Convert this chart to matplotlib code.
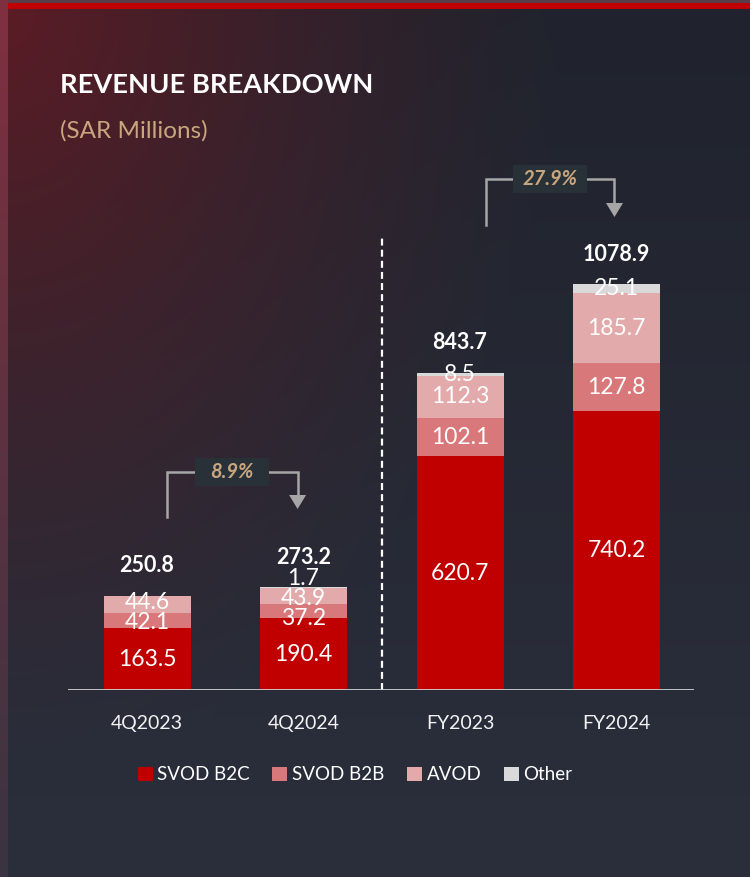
import numpy as np
import matplotlib
matplotlib.use("Agg")
import matplotlib.pyplot as plt
from matplotlib.patches import Patch, Rectangle

plt.rcParams['font.family'] = ['Lato', 'DejaVu Sans']
plt.rcParams['lines.scale_dashes'] = False

# ---------------- data ----------------
categories = ["4Q2023", "4Q2024", "FY2023", "FY2024"]
series_names = ["SVOD B2C", "SVOD B2B", "AVOD", "Other"]
svod_b2c = [163.5, 190.4, 620.7, 740.2]
svod_b2b = [42.1, 37.2, 102.1, 127.8]
avod = [44.6, 43.9, 112.3, 185.7]
other = [0.0, 1.7, 8.5, 25.1]
totals = [250.8, 273.2, 843.7, 1078.9]
growth_labels = ["8.9%", "27.9%"]

# ---------------- style ----------------
colors = ["#c00000", "#d9787b", "#e3aaab", "#d9d9d9"]
W, H = 750, 877
fig = plt.figure(figsize=(W / 100, H / 100), dpi=100)

# background gradient
bg = fig.add_axes([0, 0, 1, 1], zorder=-10)
yy, xx = np.mgrid[0:H, 0:W]
fx, fy = xx / W, yy / H
top = np.array([0x20, 0x23, 0x2d]) / 255
bot = np.array([0x2b, 0x2f, 0x3c]) / 255
img = top[None, None, :] * (1 - fy[..., None]) + bot[None, None, :] * fy[..., None]
red = np.array([0x5c, 0x1c, 0x25]) / 255
d = np.sqrt((fx * 1.0) ** 2 + (fy * 0.85) ** 2)
a = np.clip(1 - d / 0.75, 0, 1) ** 1.3
img = img * (1 - a[..., None]) + red[None, None, :] * a[..., None]
strip = np.zeros((H, 1, 3))
st_top = np.array([0x80, 0x30, 0x40]) / 255
st_bot = np.array([0x3a, 0x34, 0x42]) / 255
s = (np.arange(H) / H)[:, None]
strip[:, 0, :] = st_top * (1 - s) + st_bot * s
img[:, :8, :] = strip
img[0:3, 8:, :] = np.array([0x5a, 0x3c, 0x48]) / 255
img[3:9, 8:, :] = np.array([0xc0, 0x00, 0x00]) / 255
bg.imshow(img, extent=[0, W, H, 0], aspect='auto', interpolation='bilinear')
bg.set_xlim(0, W)
bg.set_ylim(H, 0)
bg.axis('off')

# main axes: baseline at y=690 px, 0.3763 px per unit
px_per_unit = 0.3763
ax_left, ax_right, base_px, top_px = 68, 694, 690, 150
ax = fig.add_axes([ax_left / W, (H - base_px) / H, (ax_right - ax_left) / W, (base_px - top_px) / H])
ax.set_facecolor('none')
ax.set_ylim(0, (base_px - top_px) / px_per_unit)
ax.set_xlim(-0.505, 3.495)
for sp in ax.spines.values():
    sp.set_visible(False)
ax.set_xticks([])
ax.set_yticks([])

x = np.arange(len(categories))
bw = 0.556
series = [svod_b2c, svod_b2b, avod, other]
bottoms = np.zeros(len(categories))
mids = [[] for _ in categories]
for vals, col, name in zip(series, colors, series_names):
    vals = np.array(vals)
    ax.bar(x, vals, bw, bottom=bottoms, color=col, edgecolor='none', zorder=3)
    for i, v in enumerate(vals):
        if v > 0:
            mids[i].append((bottoms[i] + v / 2, v))
    bottoms = bottoms + vals

# segment labels with simple de-overlap (min gap in px)
min_gap = 20 / px_per_unit
for i, lst in enumerate(mids):
    ys = [m for m, _ in lst]
    for _ in range(500):
        moved = False
        for k in range(len(ys) - 1):
            gap = ys[k + 1] - ys[k]
            if gap < min_gap - 1e-6:
                push = (min_gap - gap) / 2
                ys[k] -= push
                ys[k + 1] += push
                moved = True
        if not moved:
            break
    for (m, v), yv in zip(lst, ys):
        ax.text(x[i], yv, f"{v:.1f}", ha='center', va='center', color='white',
                fontsize=16.5, zorder=5)

# totals
for i, t in enumerate(totals):
    ax.annotate(f"{t:.1f}", xy=(x[i], t), xytext=(0, 21.5), textcoords='offset points',
                ha='center', va='center', color='white', fontsize=15.5, fontweight='bold',
                zorder=5)

# categories
for i, c in enumerate(categories):
    ax.annotate(c, xy=(x[i], 0), xytext=(0, -24), textcoords='offset points',
                ha='center', va='center', color='#f2f2f2', fontsize=14, annotation_clip=False)

# baseline
ax.axhline(0, color='#d0d0d0', lw=2, zorder=4)

# dashed separator
ax.plot([1.5, 1.5], [0, 1206], color='white', lw=1.6, dashes=(5, 3), zorder=2,
        clip_on=False)

# growth brackets (layout constants)
brackets = [
    dict(xl=0.128, xr=0.962, ytop=579, ybot=460, ytip=481),
    dict(xl=2.166, xr=2.987, ytop=1358, ybot=1236, ytip=1257),
]
head_h = 14 / px_per_unit
for br, lab in zip(brackets, growth_labels):
    gcol = '#a6a6a6'
    ax.plot([br['xl'], br['xl'], br['xr'], br['xr']],
            [br['ybot'], br['ytop'], br['ytop'], br['ytip'] + head_h],
            color=gcol, lw=1.8, clip_on=False, zorder=3, solid_joinstyle='miter')
    tri_w = 8.5 / 156.5
    ax.fill([br['xr'] - tri_w, br['xr'] + tri_w, br['xr']],
            [br['ytip'] + head_h, br['ytip'] + head_h, br['ytip']],
            color=gcol, clip_on=False, zorder=3, lw=0)
    xc = (br['xl'] + br['xr']) / 2
    bw_box, bh_box = 74 / 156.5, 28 / px_per_unit
    ax.add_patch(Rectangle((xc - bw_box / 2, br['ytop'] - bh_box / 2), bw_box, bh_box,
                           facecolor='#283038', edgecolor='none', zorder=4, clip_on=False))
    ax.text(xc, br['ytop'], lab, ha='center', va='center', color='#c9a67e', fontsize=14.5,
            fontweight='bold', fontstyle='italic', zorder=5)

# titles
fig.text(60 / W, 1 - 85 / H, "REVENUE BREAKDOWN", color='white', fontsize=19.6,
         fontweight='bold', va='center', ha='left')
fig.text(60 / W, 1 - 131 / H, "(SAR Millions)", color='#c9a67e', fontsize=17.5,
         va='center', ha='left')

# legend
handles = [Patch(facecolor=c, edgecolor='none', label=n) for c, n in zip(colors, series_names)]
leg = fig.legend(handles=handles, loc='center', bbox_to_anchor=(355 / W, 1 - 775 / H),
                 ncol=4, frameon=False, fontsize=13.5, handlelength=0.8, handleheight=0.8,
                 handletextpad=0.25, columnspacing=1.2, labelcolor='white')

fig.savefig("out.png", dpi=100)
